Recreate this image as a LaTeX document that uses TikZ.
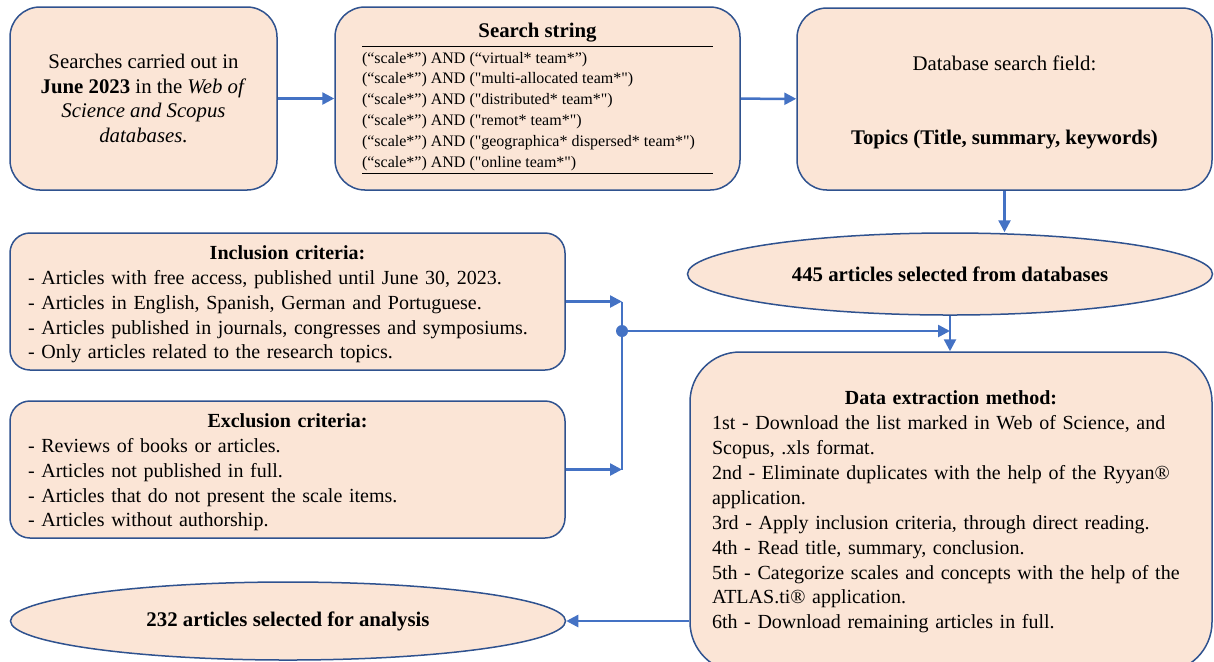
\documentclass[tikz,border=0pt]{standalone}
\usepackage{fontspec}
\setmainfont[Ligatures=TeXOff]{Liberation Serif}
\usetikzlibrary{arrows.meta,shapes.geometric}
\definecolor{boxfill}{HTML}{FBE5D6}
\definecolor{boxline}{HTML}{2F528F}
\definecolor{flow}{HTML}{4472C4}
\newcommand{\bodyfont}{\fontsize{10.4}{12.4}\selectfont}
\newcommand{\listfont}{\fontsize{10}{12.4}\selectfont}
\newcommand{\stepfont}{\fontsize{10}{12.45}\selectfont}
\newcommand{\smallfont}{\fontsize{8}{10.4}\selectfont}

\begin{document}
\begin{tikzpicture}[x=0.5pt,y=-0.5pt,
    box/.style={draw=boxline,fill=boxfill,line width=0.75pt,rounded corners=15pt,inner sep=0pt,font=\bodyfont},
    listbox/.style={box,font=\listfont,rounded corners=10pt,minimum width=277.5pt,minimum height=68.5pt,
      inner xsep=9pt,text width=259.5pt,align=left},
    oval/.style={draw=boxline,fill=boxfill,line width=0.75pt,ellipse,inner sep=0pt,font=\bodyfont\bfseries},
    flowline/.style={draw=flow,line width=1.25pt},
    flowarrow/.style={flowline,-{Triangle[length=6pt,width=6pt]}}]
  \useasboundingbox (0,0) rectangle (1214,661);
  % top row
  \node[box,minimum width=133.5pt,minimum height=91.5pt,align=center] (search) at (143.5,98.5)
    {Searches carried out in\\ \textbf{June 2023} in the \textit{Web of}\\ \textit{Science and Scopus}\\ \textit{databases.}};
  \node[box,minimum width=202.5pt,minimum height=91.5pt] (string) at (537.5,98.5)
    {\smallfont\begin{tabular}{@{}p{175.5pt}@{}}
      \multicolumn{1}{c}{\bodyfont\bfseries Search string\rule[-4.5pt]{0pt}{0pt}}\\ \hline
      \rule{0pt}{8pt}(“scale*”) AND (“virtual* team*”)\\
      (“scale*”) AND ("multi-allocated team*")\\
      (“scale*”) AND ("distributed* team*")\\
      (“scale*”) AND ("remot* team*")\\
      (“scale*”) AND ("geographica* dispersed* team*")\\
      (“scale*”) AND ("online team*")\\ \hline
    \end{tabular}};
  \node[box,minimum width=207.5pt,minimum height=91pt,align=center] (field) at (1004.5,99)
    {\rule{0pt}{11pt}Database search field:\\[24.8pt] \textbf{Topics (Title, summary, keywords)}};
  \node[oval,minimum width=262.5pt,minimum height=41pt] (hits) at (950,274)
    {445 articles selected from databases};
  % criteria
  \node[listbox] (incl) at (287.5,301.5)
    {\hfill\rule{0pt}{10pt}\textbf{Inclusion criteria:}\hfill\null\\%
     - Articles with free access, published until June 30, 2023.\\%
     - Articles in English, Spanish, German and Portuguese.\\%
     - Articles published in journals, congresses and symposiums.\\%
     - Only articles related to the research topics.};
  \node[listbox] (excl) at (287.5,469.5)
    {\hfill\rule{0pt}{10pt}\textbf{Exclusion criteria:}\hfill\null\\%
     - Reviews of books or articles.\\%
     - Articles not published in full.\\%
     - Articles that do not present the scale items.\\%
     - Articles without authorship.};
  \node[box,font=\stepfont,rounded corners=25pt,minimum width=261pt,minimum height=160pt,inner xsep=11pt,text width=239pt,align=left] (method) at (951,512)
    {\hfill\textbf{Data extraction method:}\hfill\null\\%
     1st - Download the list marked in Web of Science, and\\%
     Scopus, .xls format.\\%
     2nd - Eliminate duplicates with the help of the Ryyan®\\%
     application.\\%
     3rd - Apply inclusion criteria, through direct reading.\\%
     4th - Read title, summary, conclusion.\\%
     5th - Categorize scales and concepts with the help of the\\%
     ATLAS.ti® application.\\%
     6th - Download remaining articles in full.};
  \node[oval,minimum width=277.5pt,minimum height=39pt] (final) at (288,621)
    {232 articles selected for analysis};
  \coordinate (bus) at (622,331);
  \begin{scope}[flowarrow]
    \draw (search) -- (string);
    \draw (string) -- (field);
    \draw (field.south) -- (field.south |- hits.north);
    \draw (incl.east) -- (incl.east -| bus);
    \draw (excl.east) -- (excl.east -| bus);
    \draw (bus) -- (bus -| hits.south);
    \draw (hits.south) -- (hits.south |- method.north);
    \draw (method.west |- final.east) -- (final.east);
  \end{scope}
  \draw[flowline] (incl.east -| bus) -- (excl.east -| bus);
  \fill[flow] (bus) circle (3pt);
\end{tikzpicture}
\end{document}
